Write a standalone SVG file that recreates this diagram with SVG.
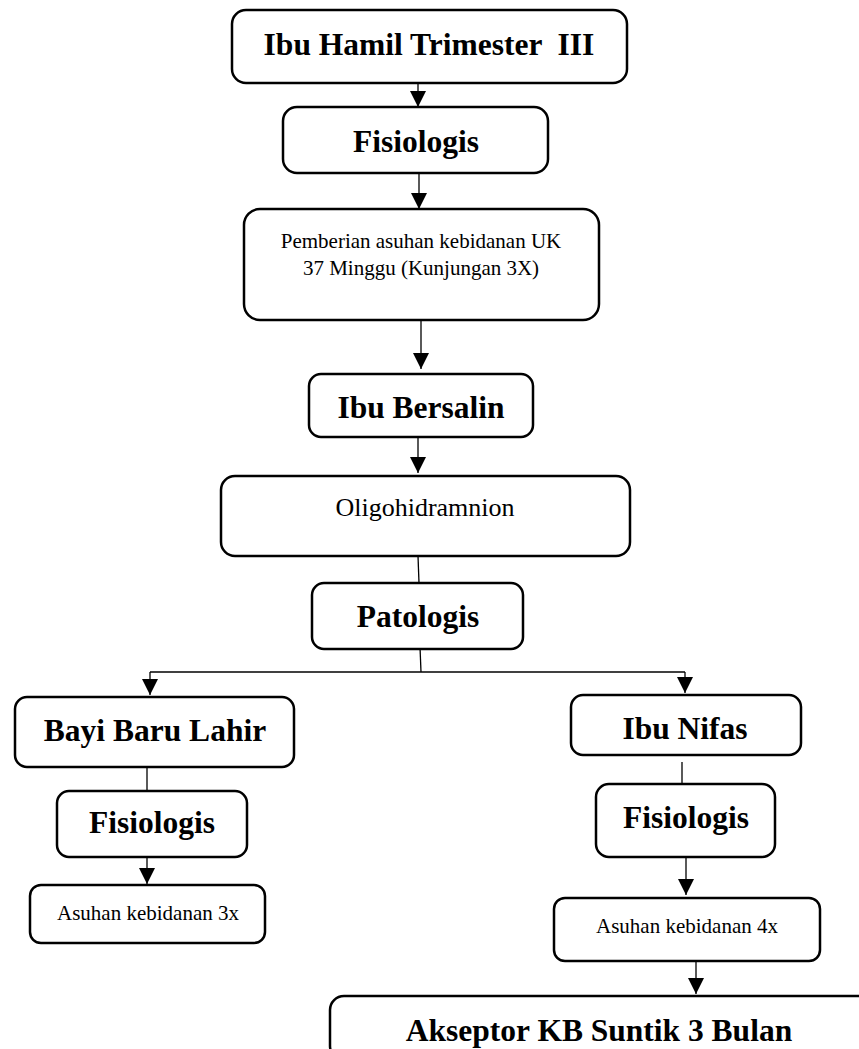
<svg xmlns="http://www.w3.org/2000/svg" width="859" height="1049" viewBox="0 0 859 1049">
<style>
.box{fill:#fff;stroke:#000;stroke-width:2.5}
.b{font-family:"Liberation Serif","Times New Roman",serif;font-weight:bold;font-size:31.5px;text-anchor:middle;fill:#000}
.r{font-family:"Liberation Serif","Times New Roman",serif;font-size:21px;text-anchor:middle;fill:#000}
.ln{stroke:#000;stroke-width:1.3;fill:none}
.ar{stroke:#000;stroke-width:1.3;fill:none;marker-end:url(#ah)}
</style>
<defs>
<marker id="ah" markerUnits="userSpaceOnUse" markerWidth="16" markerHeight="16" refX="16" refY="8" orient="auto" viewBox="0 0 16 16">
<path d="M0,0 L16,8 L0,16 z" fill="#000"/>
</marker>
</defs>
<rect width="859" height="1049" fill="#fff"/>
<g id="connectors">
<line class="ar" x1="418" y1="78" x2="418" y2="107"/>
<line class="ar" x1="419" y1="170" x2="419" y2="209"/>
<line class="ar" x1="421" y1="320" x2="421" y2="369"/>
<line class="ar" x1="418" y1="437" x2="418" y2="473"/>
<line class="ln" x1="418" y1="556" x2="419" y2="583"/>
<line class="ln" x1="420" y1="647" x2="421" y2="672"/>
<line class="ln" x1="150" y1="672" x2="685" y2="672"/>
<line class="ar" x1="150" y1="672" x2="150" y2="695"/>
<line class="ar" x1="685" y1="672" x2="685" y2="693"/>
<line class="ln" x1="147" y1="767" x2="147" y2="791"/>
<line class="ln" x1="682" y1="762" x2="682" y2="783"/>
<line class="ar" x1="147" y1="852" x2="147" y2="884"/>
<line class="ar" x1="686" y1="852" x2="686" y2="895"/>
<line class="ar" x1="696" y1="961" x2="696" y2="994"/>
</g>
<g id="n1"><rect class="box" x="232" y="10" width="395" height="73" rx="14"/><text class="b" x="429" y="55" xml:space="preserve" style="white-space:pre">Ibu Hamil Trimester  III</text></g>
<g id="n2"><rect class="box" x="283" y="107" width="265" height="66" rx="14"/><text class="b" x="416" y="152">Fisiologis</text></g>
<g id="n3"><rect class="box" x="244" y="209" width="355" height="111" rx="16"/><text class="r" x="421" y="248">Pemberian asuhan kebidanan UK</text><text class="r" x="421" y="275">37 Minggu (Kunjungan 3X)</text></g>
<g id="n4"><rect class="box" x="309" y="374" width="224" height="63" rx="12"/><text class="b" x="421" y="418">Ibu Bersalin</text></g>
<g id="n5"><rect class="box" x="221" y="476" width="409" height="80" rx="14"/><text class="r" x="425" y="516" style="font-size:26px">Oligohidramnion</text></g>
<g id="n6"><rect class="box" x="312" y="583" width="211" height="66" rx="12"/><text class="b" x="418" y="627">Patologis</text></g>
<g id="n7"><rect class="box" x="15" y="697" width="279" height="70" rx="12"/><text class="b" x="155" y="741">Bayi Baru Lahir</text></g>
<g id="n8"><rect class="box" x="571" y="695" width="230" height="60" rx="12"/><text class="b" x="685" y="739">Ibu Nifas</text></g>
<g id="n9"><rect class="box" x="57" y="791" width="190" height="66" rx="12"/><text class="b" x="152" y="833">Fisiologis</text></g>
<g id="n10"><rect class="box" x="596" y="784" width="179" height="73" rx="13"/><text class="b" x="686" y="828">Fisiologis</text></g>
<g id="n11"><rect class="box" x="30" y="885" width="235" height="58" rx="11"/><text class="r" x="148" y="920">Asuhan kebidanan 3x</text></g>
<g id="n12"><rect class="box" x="554" y="898" width="266" height="63" rx="11"/><text class="r" x="687" y="933">Asuhan kebidanan 4x</text></g>
<g id="n13"><rect class="box" x="330" y="996" width="560" height="64" rx="14"/><text class="b" x="599" y="1041">Akseptor KB Suntik 3 Bulan</text></g>
</svg>
